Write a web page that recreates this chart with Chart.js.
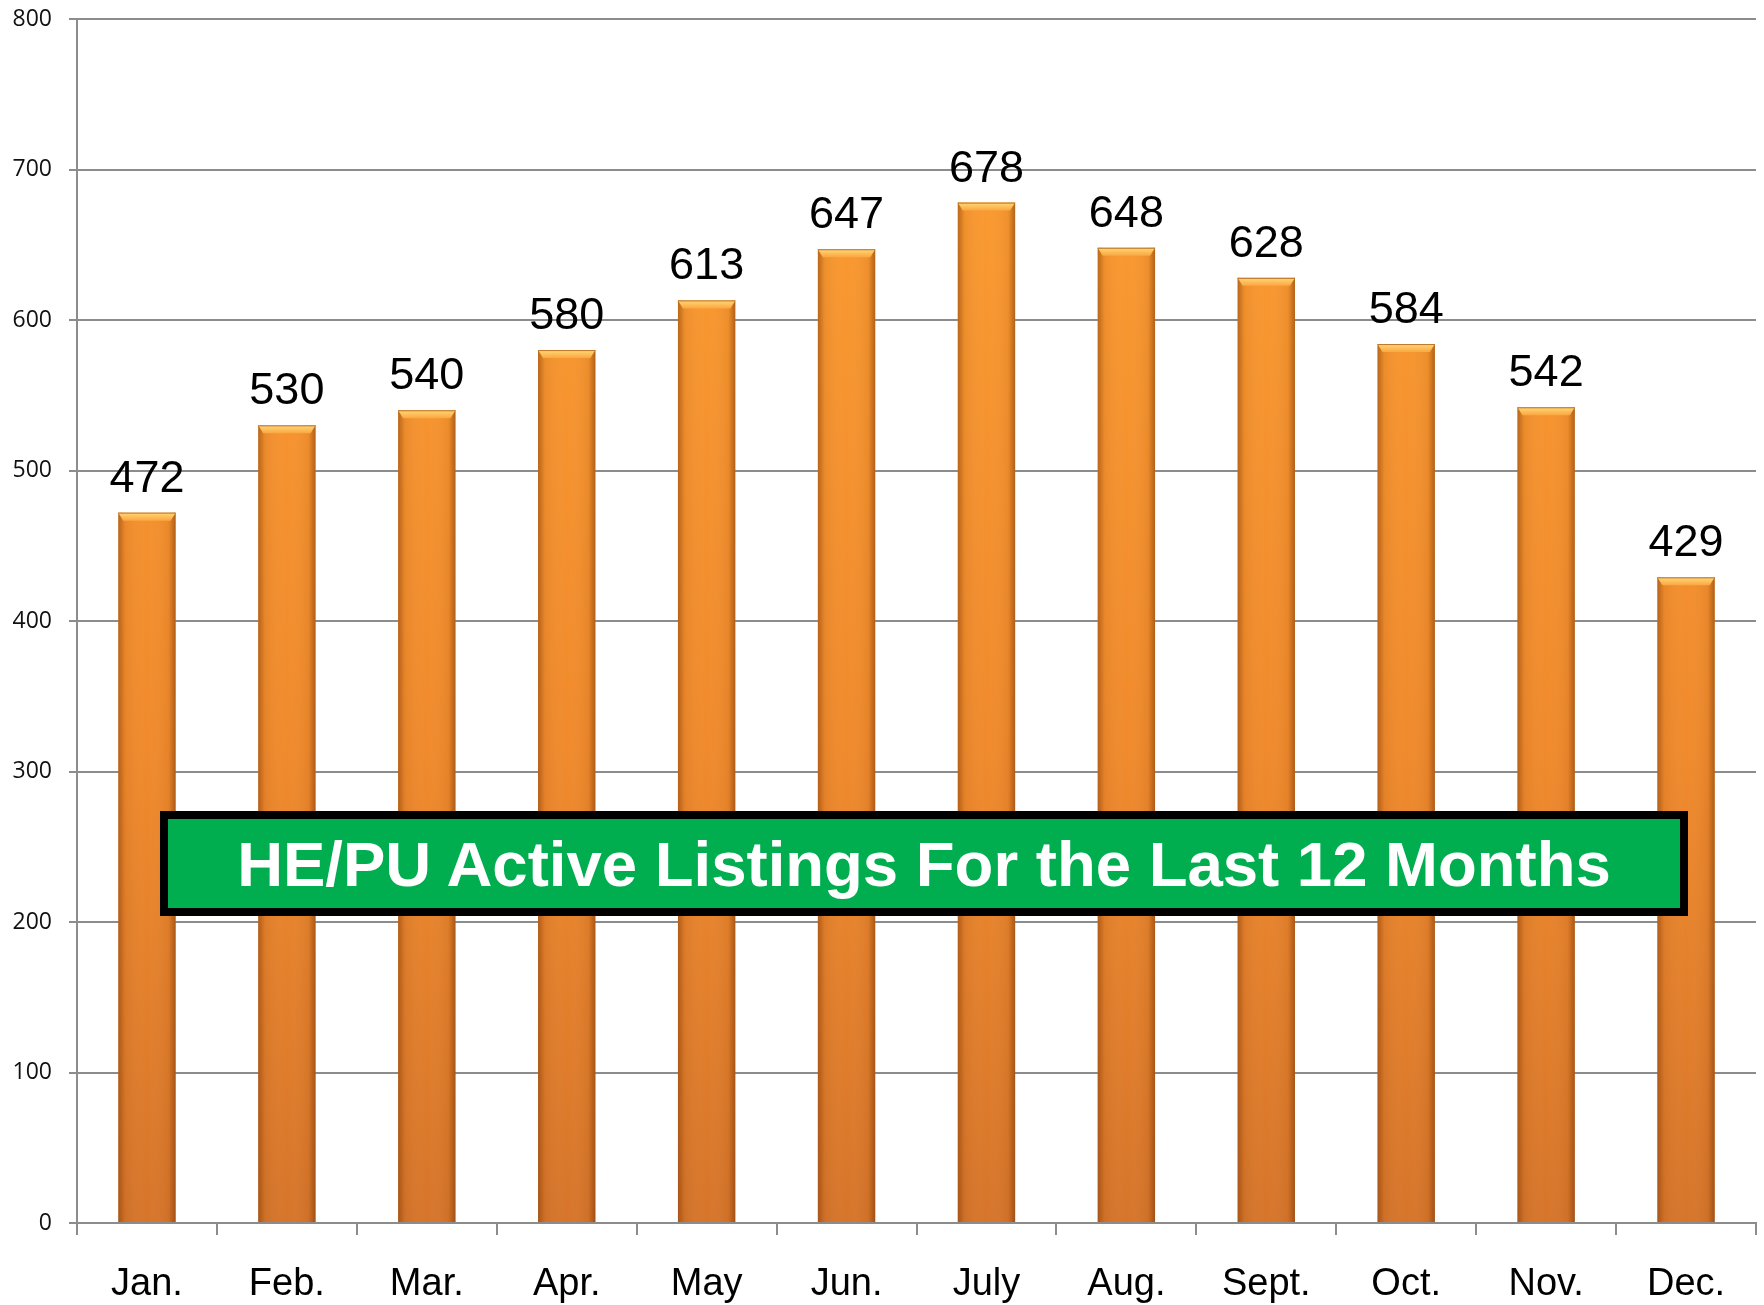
<!DOCTYPE html>
<html>
<head>
<meta charset="utf-8">
<script src="https://cdn.jsdelivr.net/npm/chart.js@4.4.1/dist/chart.umd.min.js"></script>
<style>
  html, body { margin: 0; padding: 0; background: #ffffff; }
  #wrap { position: relative; width: 1764px; height: 1305px; }
  #c { position: absolute; left: 0; top: 0; }
  #titleBox {
    position: absolute; left: 160px; top: 811px; width: 1512px; height: 89px;
    border: 8px solid #000; background: #00AE50; color: #fff;
    font-family: "Liberation Sans", Arial, sans-serif; font-weight: bold; font-size: 63.5px;
    display: flex; align-items: center; justify-content: center; white-space: nowrap;
  }
</style>
</head>
<body>
<div id="wrap">
  <canvas id="c" width="1764" height="1305"></canvas>
  <div id="titleBox">HE/PU Active Listings For the Last 12 Months</div>
</div>
<script>
const categories = ["Jan.", "Feb.", "Mar.", "Apr.", "May", "Jun.", "July", "Aug.", "Sept.", "Oct.", "Nov.", "Dec."];
const listings = [472, 530, 540, 580, 613, 647, 678, 648, 628, 584, 542, 429];
const yTicks = [0, 100, 200, 300, 400, 500, 600, 700, 800];

const gridGray = "#8c8c8c";

const barEffects = {
  id: "barEffects",
  afterDatasetsDraw(chart) {
    const ctx = chart.ctx;
    const meta = chart.getDatasetMeta(0);
    meta.data.forEach((bar) => {
      const w = bar.width;
      const left = bar.x - w / 2, right = bar.x + w / 2;
      const top = bar.y, base = bar.base;
      ctx.save();
      const hg = ctx.createLinearGradient(left, 0, right, 0);
      hg.addColorStop(0, "rgba(110,45,0,0.45)");
      hg.addColorStop(0.12, "rgba(110,45,0,0.08)");
      hg.addColorStop(0.5, "rgba(255,255,255,0.0)");
      hg.addColorStop(0.88, "rgba(110,45,0,0.08)");
      hg.addColorStop(1, "rgba(110,45,0,0.5)");
      ctx.fillStyle = hg;
      ctx.fillRect(left, top, w, base - top);
      const cap = 8;
      const vg = ctx.createLinearGradient(0, top, 0, top + cap);
      vg.addColorStop(0, "#FFD978");
      vg.addColorStop(1, "#FBA640");
      ctx.fillStyle = vg;
      ctx.beginPath();
      ctx.moveTo(left, top);
      ctx.lineTo(right, top);
      ctx.lineTo(right - 5, top + cap);
      ctx.lineTo(left + 5, top + cap);
      ctx.closePath();
      ctx.fill();
      ctx.strokeStyle = "rgba(170,90,20,0.8)";
      ctx.lineWidth = 1;
      ctx.beginPath();
      ctx.moveTo(left, top + 0.5);
      ctx.lineTo(right, top + 0.5);
      ctx.stroke();
      ctx.restore();
    });
  }
};

const valueLabels = {
  id: "valueLabels",
  afterDatasetsDraw(chart) {
    const ctx = chart.ctx;
    const meta = chart.getDatasetMeta(0);
    ctx.save();
    ctx.font = '45px "Liberation Sans", Arial, sans-serif';
    ctx.fillStyle = "#000";
    ctx.textAlign = "center";
    ctx.textBaseline = "alphabetic";
    meta.data.forEach((bar, i) => {
      ctx.fillText(String(listings[i]), bar.x, bar.y - 21);
    });
    ctx.restore();
  }
};

const ctx = document.getElementById("c").getContext("2d");
new Chart(ctx, {
  type: "bar",
  data: {
    labels: categories,
    datasets: [{
      data: listings,
      backgroundColor: (context) => {
        const chart = context.chart;
        const area = chart.chartArea;
        if (!area) return "#F28A2A";
        const ys = chart.scales.y;
        const g = chart.ctx.createLinearGradient(0, ys.getPixelForValue(700), 0, ys.getPixelForValue(0));
        g.addColorStop(0, "#FA9A30");
        g.addColorStop(0.55, "#F08A2C");
        g.addColorStop(1, "#D6752A");
        return g;
      },
      borderWidth: 0,
      barPercentage: 0.41,
      categoryPercentage: 1.0
    }]
  },
  options: {
    responsive: false,
    maintainAspectRatio: false,
    animation: false,
    devicePixelRatio: 1,
    layout: { padding: { top: 19, right: 8, left: 0, bottom: 0 } },
    plugins: { legend: { display: false }, tooltip: { enabled: false }, title: { display: false } },
    scales: {
      x: {
        offset: true,
        grid: { display: true, drawOnChartArea: false, color: gridGray, lineWidth: 2, tickLength: 12, offset: true },
        border: { display: true, color: gridGray, width: 2 },
        ticks: { color: "#000", padding: 27, font: { family: '"Liberation Sans", Arial, sans-serif', size: 38 }, maxRotation: 0 },
        afterFit(scale) { scale.height = 82; scale.paddingLeft = 0; scale.paddingRight = 0; }
      },
      y: {
        min: 0, max: 800,
        afterBuildTicks(scale) { scale.ticks = yTicks.map(v => ({ value: v })); },
        grid: { color: gridGray, lineWidth: 2, tickLength: 8 },
        border: { display: true, color: gridGray, width: 2 },
        ticks: { color: "#111", padding: 17, font: { family: '"Open Sans", sans-serif', size: 23 } },
        afterFit(scale) { scale.width = 77; scale.paddingTop = 0; scale.paddingBottom = 0; }
      }
    }
  },
  plugins: [barEffects, valueLabels]
});
</script>
</body>
</html>
